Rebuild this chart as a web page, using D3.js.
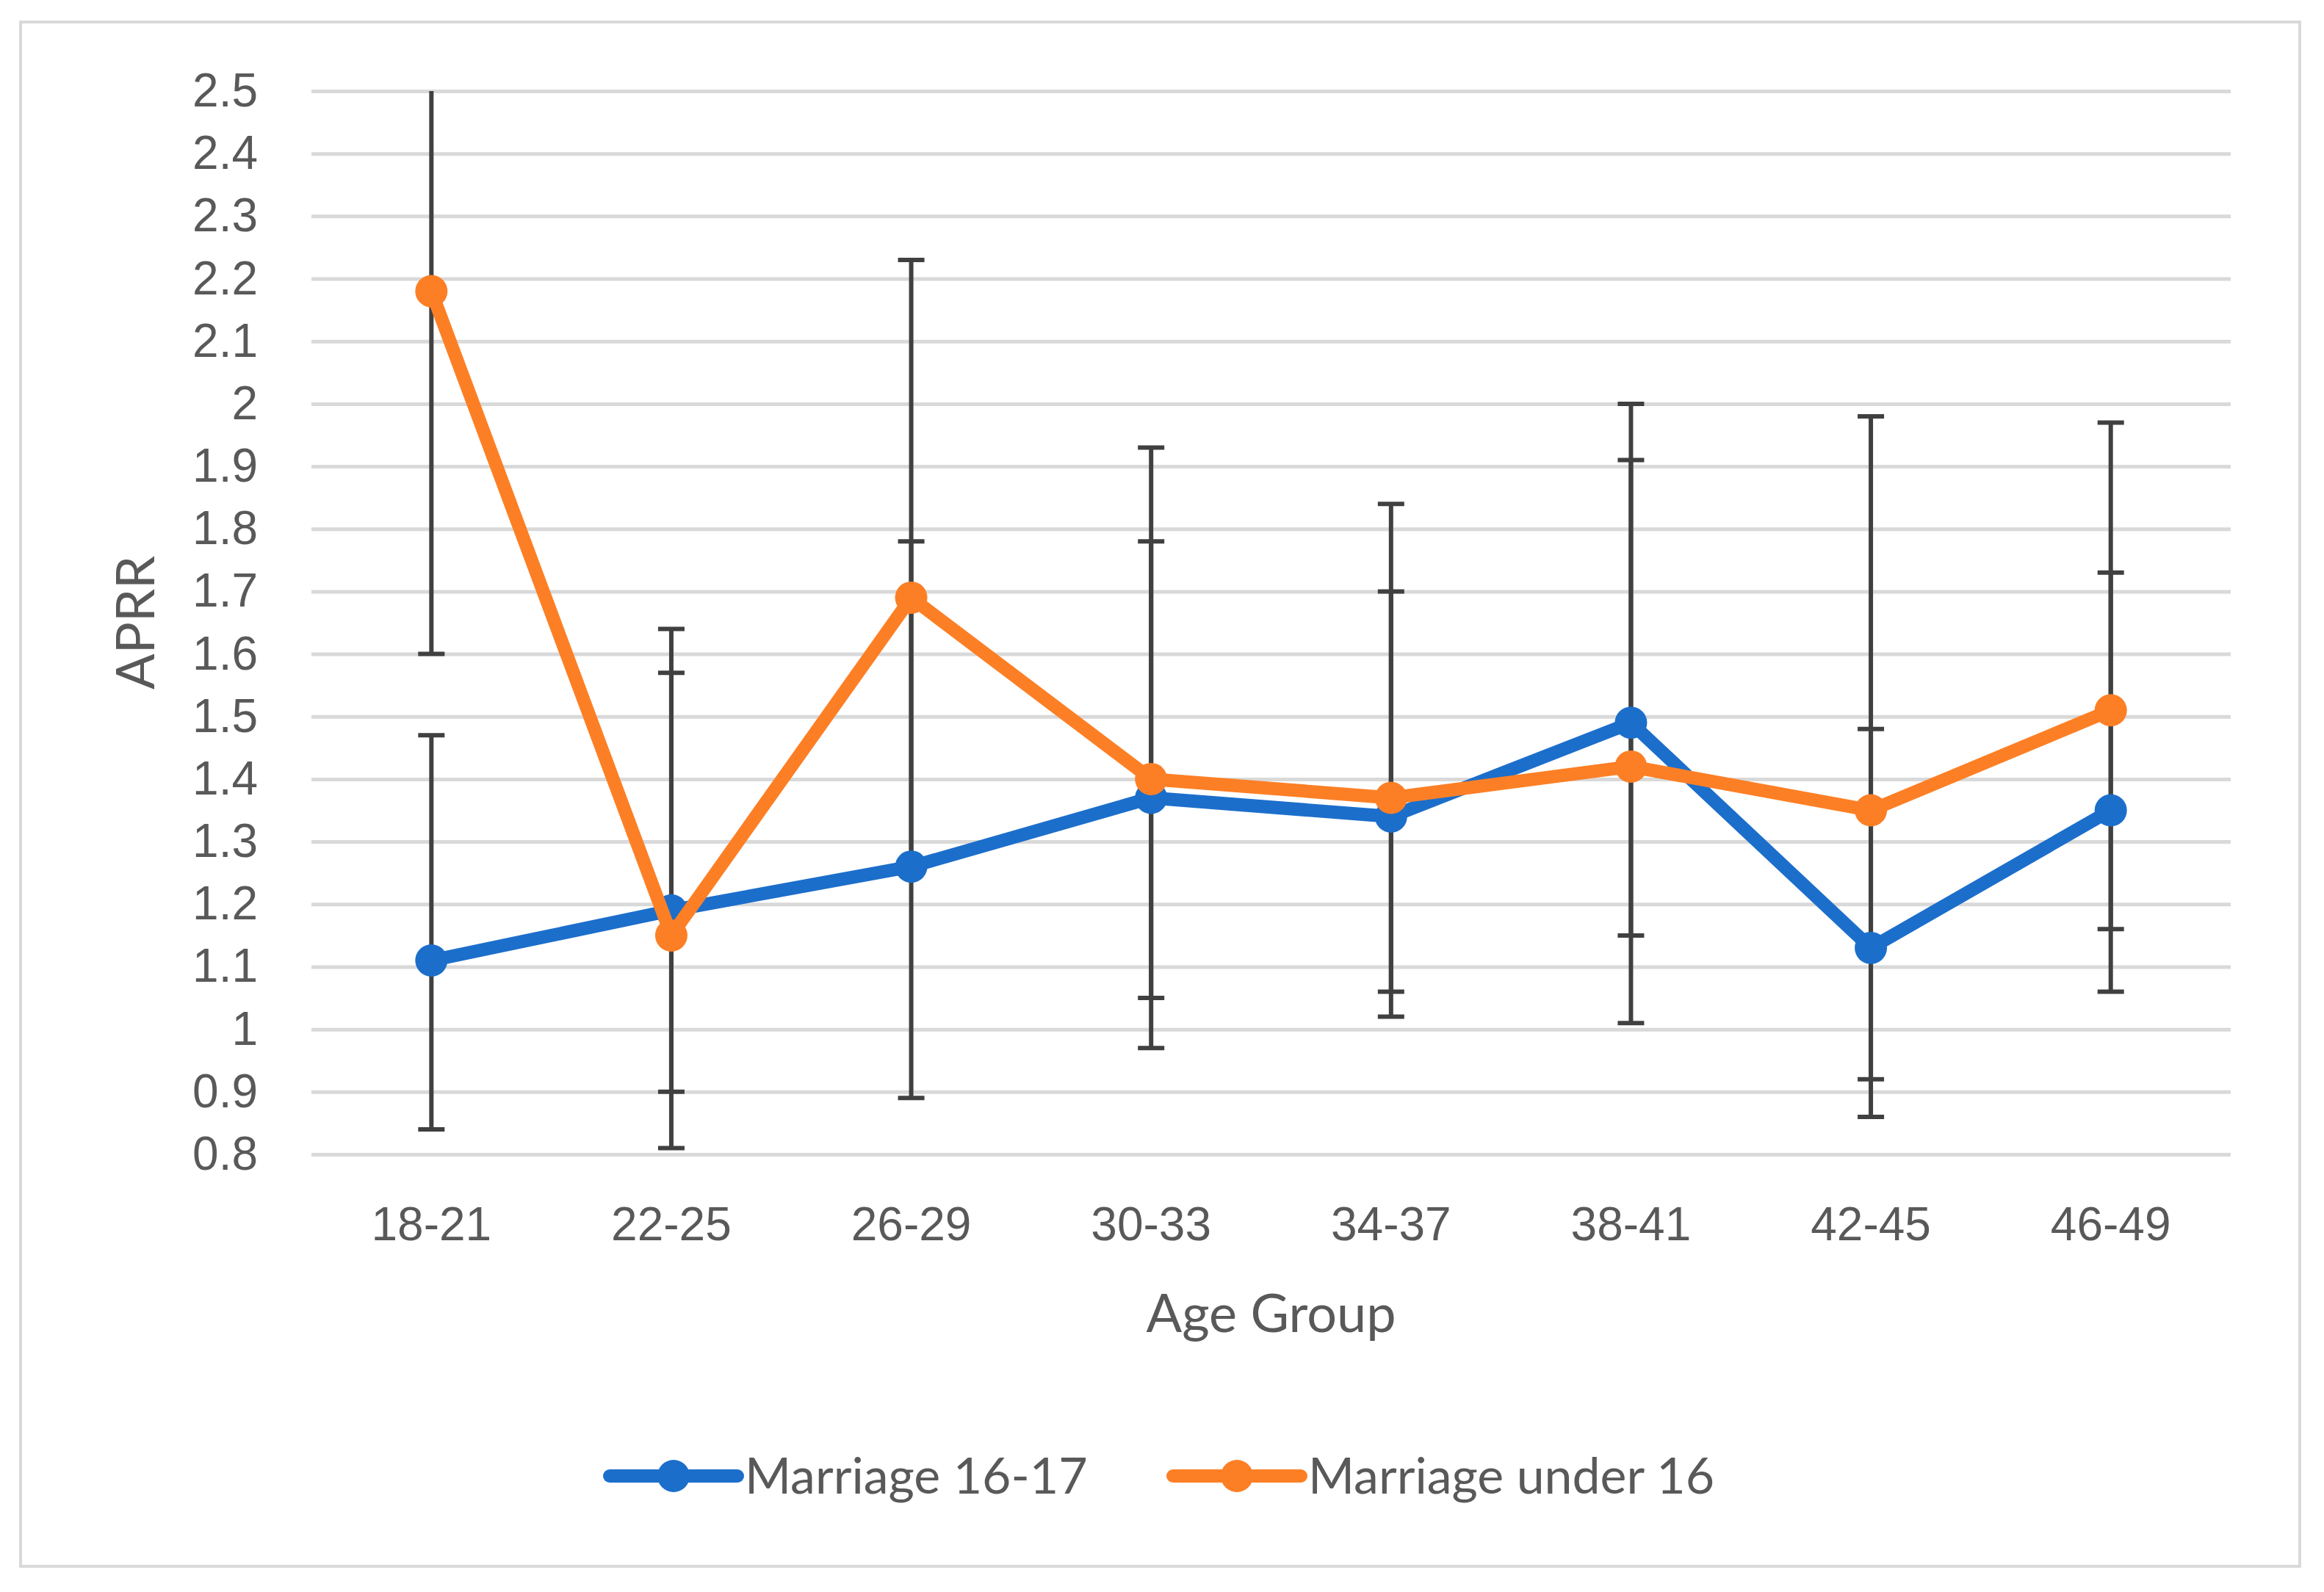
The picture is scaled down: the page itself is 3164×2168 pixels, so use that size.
<!DOCTYPE html>
<html>
<head>
<meta charset="UTF-8">
<style>
body{
	margin: 0;
	background: #fff;
	font-family: Lato, "Open Sans", sans-serif;
}
.grid line{
	stroke: #d9d9d9;
	stroke-width: 5;
}
.grid path{
	display: none;
}
.axis path, .axis line{
	display: none;
}
.axis text{
	font-size: 64px;
	fill: #595959;
}
.axis-title{
	font-size: 72px;
	fill: #595959;
	text-anchor: middle;
}
.err line{
	stroke: #404040;
	stroke-width: 6;
}
.legend text{
	font-size: 68px;
	fill: #595959;
}
</style>
<script src="https://cdn.jsdelivr.net/npm/d3@7"></script>
</head>
<body>
<script>
var categories = ["18-21", "22-25", "26-29", "30-33", "34-37", "38-41", "42-45", "46-49"];
var seriesNames = ["Marriage 16-17", "Marriage under 16"];

var aprr1617 = [1.11, 1.19, 1.26, 1.37, 1.34, 1.49, 1.13, 1.35];
var low1617  = [0.84, 0.90, 0.89, 1.05, 1.06, 1.15, 0.86, 1.06];
var high1617 = [1.47, 1.57, 1.78, 1.78, 1.70, 1.91, 1.48, 1.73];

var aprrUnder16 = [2.18, 1.15, 1.69, 1.40, 1.37, 1.42, 1.35, 1.51];
var lowUnder16  = [1.60, 0.81, 1.27, 0.97, 1.02, 1.01, 0.92, 1.16];
var highUnder16 = [2.97, 1.64, 2.23, 1.93, 1.84, 2.00, 1.98, 1.97];

var yTicks = [0.8, 0.9, 1, 1.1, 1.2, 1.3, 1.4, 1.5, 1.6, 1.7, 1.8, 1.9, 2, 2.1, 2.2, 2.3, 2.4, 2.5];

var colors = ["#1c6ecb", "#fd7f25"];

var W = 3164, H = 2168;
var margin = {top: 124, right: 127, bottom: 596, left: 424};
var width = W - margin.left - margin.right,
	height = H - margin.top - margin.bottom;

var series = [
	{name: seriesNames[0], color: colors[0], values: aprr1617, low: low1617, high: high1617},
	{name: seriesNames[1], color: colors[1], values: aprrUnder16, low: lowUnder16, high: highUnder16}
];

var x = d3.scaleBand()
	.domain(categories)
	.range([0, width])
	.padding(0);

var y = d3.scaleLinear()
	.domain([0.8, 2.5])
	.range([height, 0])
	.clamp(true);

var svg = d3.select("body").append("svg")
	.attr("width", W)
	.attr("height", H);

// chart frame
svg.append("rect")
	.attr("x", 28).attr("y", 30)
	.attr("width", 3103).attr("height", 2103)
	.attr("fill", "#fff")
	.attr("stroke", "#d9d9d9")
	.attr("stroke-width", 4);

var g = svg.append("g")
	.attr("transform", "translate(" + margin.left + "," + margin.top + ")");

// gridlines
g.append("g")
	.attr("class", "grid")
	.call(d3.axisLeft(y).tickValues(yTicks).tickSize(-width).tickFormat(""));

g.append("g")
	.attr("class", "y axis")
	.call(d3.axisLeft(y).tickValues(yTicks).tickSize(0).tickPadding(73).tickFormat(d3.format("")));

g.append("g")
	.attr("class", "x axis")
	.attr("transform", "translate(0," + height + ")")
	.call(d3.axisBottom(x).tickSize(0).tickPadding(72));

g.append("text")
	.attr("class", "axis-title")
	.attr("x", width / 2)
	.attr("y", 1814 - margin.top)
	.text("Age Group");

g.append("text")
	.attr("class", "axis-title")
	.attr("transform", "translate(" + (210 - margin.left) + "," + (height / 2) + ") rotate(-90)")
	.text("APRR");

var cx = function(i){ return x(categories[i]) + x.bandwidth() / 2; };
var capW = 18;

// error bars
series.forEach(function(s){
	var eg = g.append("g").attr("class", "err");
	var idx = d3.range(categories.length);
	eg.selectAll("line.v").data(idx).enter().append("line")
		.attr("class", "v")
		.attr("x1", cx).attr("x2", cx)
		.attr("y1", function(i){ return y(s.low[i]); })
		.attr("y2", function(i){ return y(s.high[i]); });
	eg.selectAll("line.lo").data(idx).enter().append("line")
		.attr("class", "lo")
		.attr("x1", function(i){ return cx(i) - capW; })
		.attr("x2", function(i){ return cx(i) + capW; })
		.attr("y1", function(i){ return y(s.low[i]); })
		.attr("y2", function(i){ return y(s.low[i]); });
	eg.selectAll("line.hi").data(idx.filter(function(i){ return s.high[i] <= y.domain()[1]; })).enter().append("line")
		.attr("class", "hi")
		.attr("x1", function(i){ return cx(i) - capW; })
		.attr("x2", function(i){ return cx(i) + capW; })
		.attr("y1", function(i){ return y(s.high[i]); })
		.attr("y2", function(i){ return y(s.high[i]); });
});

var line = d3.line()
	.x(function(d, i){ return cx(i); })
	.y(function(d){ return y(d); });

series.forEach(function(s){
	g.append("path")
		.datum(s.values)
		.attr("fill", "none")
		.attr("stroke", s.color)
		.attr("stroke-width", 18)
		.attr("stroke-linejoin", "round")
		.attr("d", line);
	g.append("g").selectAll("circle")
		.data(s.values)
		.enter().append("circle")
		.attr("cx", function(d, i){ return cx(i); })
		.attr("cy", function(d){ return y(d); })
		.attr("r", 22)
		.attr("fill", s.color);
});

// legend
var legend = svg.append("g")
	.attr("class", "legend")
	.attr("transform", "translate(0,2010)");
var lx = [830, 1597];
series.forEach(function(s, i){
	var it = legend.append("g").attr("transform", "translate(" + lx[i] + ",0)");
	it.append("line")
		.attr("x1", 0).attr("x2", 174)
		.attr("stroke", s.color)
		.attr("stroke-width", 18)
		.attr("stroke-linecap", "round");
	it.append("circle")
		.attr("cx", 87).attr("r", 22)
		.attr("fill", s.color);
	it.append("text")
		.attr("x", 184)
		.attr("dy", "0.35em")
		.text(s.name);
});
</script>
</body>
</html>
